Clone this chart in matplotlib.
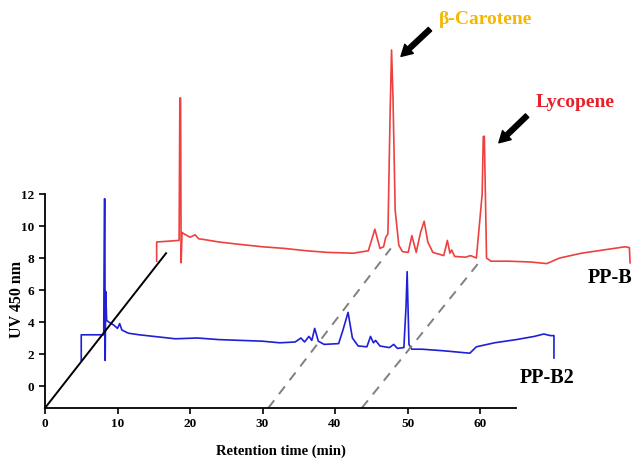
import matplotlib
matplotlib.use("Agg")
import matplotlib.pyplot as plt

plt.rcParams['font.family'] = ['Liberation Serif', 'DejaVu Serif']
plt.rcParams['font.weight'] = 'bold'

# PP-B2 trace (blue): time (min), signal
blue_t = [5.0, 5.0, 6.5, 8.1, 8.2, 8.25, 8.3, 8.38, 8.5, 8.8, 9.5, 10.0, 10.3, 10.6,
          11.5, 13, 15, 18, 21, 24, 27, 30, 32.4, 34.5, 35.3, 35.8, 36.4, 36.8, 37.2,
          37.7, 38.5, 40.5, 41.1, 41.8, 42.4, 43.2, 44.4, 44.9, 45.3, 45.6, 46.2, 47.5,
          48.1, 48.6, 49.5, 49.8, 49.95, 50.2, 50.6, 52, 55, 58.6, 59.5, 62, 65, 67.5,
          68.8, 69.7, 70.2, 70.2]
blue_y = [1.6, 3.2, 3.2, 3.2, 11.7, 11.7, 1.6, 5.9, 4.1, 4.0, 3.8, 3.6, 3.9, 3.5,
          3.3, 3.2, 3.1, 2.95, 3.0, 2.9, 2.85, 2.8, 2.7, 2.75, 3.0, 2.75, 3.1, 2.85, 3.6,
          2.8, 2.6, 2.65, 3.5, 4.6, 3.0, 2.5, 2.45, 3.1, 2.7, 2.85, 2.5, 2.4,
          2.6, 2.35, 2.4, 5.0, 7.15, 2.6, 2.3, 2.3, 2.2, 2.05, 2.45, 2.7, 2.9, 3.1,
          3.25, 3.15, 3.15, 1.75]

# PP-B trace (red), already offset in the picture
red_t = [15.4, 15.4, 17, 18.5, 18.6, 18.7, 18.78, 18.9, 19.2, 20.0, 20.7, 21.2, 22,
         24, 26.9, 30, 33, 36.1, 39, 42.5, 44.6, 45.5, 46.2, 46.7, 47.0, 47.3, 47.6,
         47.8, 48.0, 48.3, 48.8, 49.3, 50.1, 50.6, 51.2, 51.8, 52.3, 52.8, 53.5, 55,
         55.5, 55.85, 56.1, 56.5, 58, 58.7, 59.5, 60.3, 60.45, 60.6, 60.9, 61.5, 64,
         67, 69.2, 71, 74, 77, 80.0, 80.6, 80.7]
red_y = [7.8, 9.0, 9.05, 9.1, 18.0, 18.0, 7.7, 9.6, 9.5, 9.3, 9.45, 9.2, 9.15,
         9.0, 8.85, 8.7, 8.6, 8.45, 8.35, 8.3, 8.45, 9.8, 8.6, 8.7, 9.3, 9.5, 17,
         21.0, 18, 11, 8.8, 8.4, 8.35, 9.4, 8.35, 9.6, 10.3, 9.0, 8.35, 8.15,
         9.1, 8.3, 8.5, 8.1, 8.05, 8.15, 8.0, 12, 15.6, 15.6, 8.0, 7.8, 7.8,
         7.75, 7.65, 8.0, 8.3, 8.5, 8.7, 8.65, 7.7]

# guide lines (start, end) in data units
axis_line = [(0, -1.375), (16.7, 8.3)]
guide_1 = [(30.8, -1.375), (47.7, 8.6)]
guide_2 = [(43.7, -1.375), (60.0, 7.8)]

x_ticks = [0, 10, 20, 30, 40, 50, 60]
y_ticks = [0, 2, 4, 6, 8, 10, 12]

fig = plt.figure(figsize=(6.41, 4.61), dpi=100)
ax = fig.add_axes([45/641, 53/461, 471.25/641, 374/461])
ax.set_xlim(0, 65)
ax.set_ylim(-1.375, 22)

ax.plot(blue_t, blue_y, color='#1f1fd6', lw=1.2, clip_on=False)
ax.plot(red_t, red_y, color='#ee4040', lw=1.2, clip_on=False)

(x0, y0), (x1, y1) = axis_line
ax.plot([x0, x1], [y0, y1], color='black', lw=1.4, clip_on=False)
for (x0, y0), (x1, y1) in [guide_1, guide_2]:
    ax.plot([x0, x1], [y0, y1], color='#808080', lw=1.4, ls=(0, (5, 4)), clip_on=False)

for s in ['top', 'right']:
    ax.spines[s].set_visible(False)
ax.spines['left'].set_bounds(-1.375, 12)
ax.spines['left'].set_linewidth(1.3)
ax.spines['bottom'].set_linewidth(1.3)
ax.set_xticks(x_ticks)
ax.set_yticks(y_ticks)
ax.tick_params(direction='out', length=4, width=1.2, labelsize=9.5)

ax.set_xlabel('Retention time (min)', fontsize=10.5, fontweight='bold', labelpad=10)
ax.set_ylabel('UV 450 nm', fontsize=11.5, fontweight='bold')
ax.yaxis.set_label_coords(-0.043, (5.4 + 1.375) / 23.375)

ax.text(60.7, 22.9, 'β-Carotene', color='#f5b700', fontsize=14, fontweight='bold',
        ha='center', va='center', clip_on=False)
ax.text(73.1, 17.7, 'Lycopene', color='#e8202a', fontsize=14, fontweight='bold',
        ha='center', va='center', clip_on=False)
ax.text(74.9, 6.75, 'PP-B', color='black', fontsize=14.5, fontweight='bold',
        ha='left', va='center', clip_on=False)
ax.text(65.5, 0.5, 'PP-B2', color='black', fontsize=14.5, fontweight='bold',
        ha='left', va='center', clip_on=False)

arrow = dict(arrowstyle='simple,head_width=0.9,head_length=0.8,tail_width=0.35',
             color='black', shrinkA=0, shrinkB=0)
ax.annotate('', xy=(49.1, 20.6), xytext=(53.1, 22.3), arrowprops=arrow,
            annotation_clip=False)
ax.annotate('', xy=(62.6, 15.2), xytext=(66.5, 16.9), arrowprops=arrow,
            annotation_clip=False)

fig.savefig('out.png', dpi=100)
